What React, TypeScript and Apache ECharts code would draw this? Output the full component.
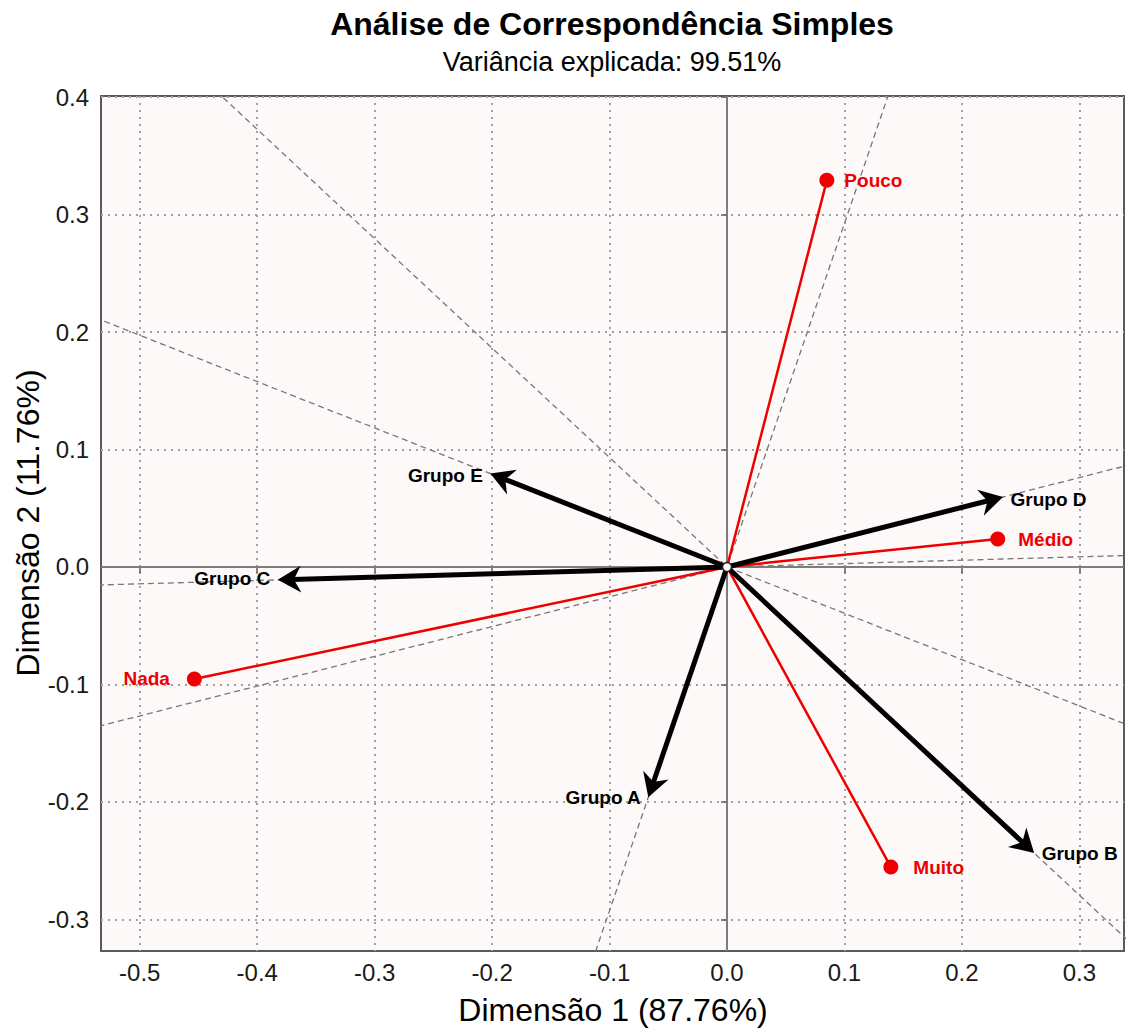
import React, { useEffect, useRef } from "react";
import * as echarts from "echarts";

// ---- Data ----
const groupNames = ["Grupo A", "Grupo B", "Grupo C", "Grupo D", "Grupo E"];
const groupDim1 = [-0.067, 0.2615, -0.3825, 0.235, -0.2015];
const groupDim2 = [-0.196, -0.2436, -0.011, 0.0596, 0.0795];

const levelNames = ["Muito", "Médio", "Nada", "Pouco"];
const levelDim1 = [0.1395, 0.2305, -0.4535, 0.085];
const levelDim2 = [-0.2555, 0.0238, -0.0954, 0.3292];

const originPoint = [0, 0];

const xTicks = [-0.5, -0.4, -0.3, -0.2, -0.1, 0, 0.1, 0.2, 0.3];
const yTicks = [-0.3, -0.2, -0.1, 0, 0.1, 0.2, 0.3, 0.4];
const xRange = [-0.533, 0.338];
const yRange = [-0.327, 0.401];

const titleText = "Análise de Correspondência Simples";
const subtitleText = "Variância explicada: 99.51%";
const xTitle = "Dimensão 1 (87.76%)";
const yTitle = "Dimensão 2 (11.76%)";

// label placement (style, not data)
const groupLabelSide = ["left", "right", "left", "right", "left"];
const groupLabelOffsetY = [0, 0, -1, 3, 2];
const levelLabelSide = ["right", "right", "left", "right"];
const levelLabelDistance = [15, 13, 17, 10];

const RED = "#EE0000";
const FONT = '"Liberation Sans", Arial, Helvetica, sans-serif';

export default function App() {
  const ref = useRef<HTMLDivElement>(null);

  useEffect(() => {
    document.body.style.margin = "0";
    if (!ref.current) return;
    const chart = echarts.init(ref.current, null, { renderer: "svg" });

    const groupPts = groupDim1.map((x, i) => [x, groupDim2[i]]);
    const levelPts = levelDim1.map((x, i) => [x, levelDim2[i]]);
    const K = 6;

    const dashedSeries = groupPts.map((p, i) => ({
      type: "line",
      name: "eixo " + groupNames[i],
      data: [
        [-K * p[0], -K * p[1]],
        [K * p[0], K * p[1]],
      ],
      showSymbol: false,
      symbol: "none",
      clip: true,
      silent: true,
      z: 2,
      lineStyle: { color: "#777777", width: 1.3, type: [6, 4] },
    }));

    const redLineSeries = levelPts.map((p, i) => ({
      type: "line",
      name: "seg " + levelNames[i],
      data: [originPoint, p],
      showSymbol: false,
      symbol: "none",
      silent: true,
      z: 3,
      lineStyle: { color: RED, width: 2.5 },
    }));

    const textStyle = (text: string, size: number, bold: boolean) => ({
      text,
      fontSize: size,
      fontWeight: bold ? "bold" : "normal",
      fontFamily: FONT,
      fill: "#000",
      align: "center",
      verticalAlign: "middle",
      textAlign: "center",
      textVerticalAlign: "middle",
    });

    const option: any = {
      animation: false,
      backgroundColor: "#ffffff",
      grid: {
        left: 101,
        right: 2,
        top: 96,
        bottom: 78,
        containLabel: false,
        outerBoundsMode: "none",
        show: true,
        backgroundColor: "#FCF9F8",
        borderColor: "#5a5a5a",
        borderWidth: 2,
      },
      xAxis: {
        type: "value",
        min: xRange[0],
        max: xRange[1],
        axisLine: { show: false },
        axisTick: {
          show: true,
          length: 6,
          customValues: xTicks,
          lineStyle: { color: "#5a5a5a", width: 1.5 },
        },
        axisLabel: {
          customValues: xTicks,
          formatter: (v: number) => v.toFixed(1),
          fontSize: 24,
          color: "#1a1a1a",
          fontFamily: FONT,
          margin: 9,
        },
        splitLine: {
          show: true,
          lineStyle: { color: "#a0a0a0", width: 2, type: [2, 5] },
        },
      },
      yAxis: {
        type: "value",
        min: yRange[0],
        max: yRange[1],
        axisLine: { show: false },
        axisTick: {
          show: true,
          length: 6,
          customValues: yTicks,
          lineStyle: { color: "#5a5a5a", width: 1.5 },
        },
        axisLabel: {
          customValues: yTicks,
          formatter: (v: number) => v.toFixed(1),
          fontSize: 24,
          color: "#1a1a1a",
          fontFamily: FONT,
          margin: 12,
        },
        splitLine: {
          show: true,
          lineStyle: { color: "#a0a0a0", width: 2, type: [2, 5] },
        },
      },
      graphic: [
        { type: "text", x: 612, y: 24, silent: true, style: textStyle(titleText, 32, true) },
        { type: "text", x: 612, y: 62, silent: true, style: textStyle(subtitleText, 27, false) },
        { type: "text", x: 613, y: 1010, silent: true, style: textStyle(xTitle, 32, false) },
        {
          type: "text",
          x: 28,
          y: 523,
          rotation: Math.PI / 2,
          silent: true,
          style: textStyle(yTitle, 32, false),
        },
      ],
      series: [
        {
          type: "line",
          name: "zero-x",
          data: [
            [0, yRange[0]],
            [0, yRange[1]],
          ],
          showSymbol: false,
          symbol: "none",
          silent: true,
          z: 1,
          lineStyle: { color: "#7c7c7c", width: 2 },
        },
        {
          type: "line",
          name: "zero-y",
          data: [
            [xRange[0], 0],
            [xRange[1], 0],
          ],
          showSymbol: false,
          symbol: "none",
          silent: true,
          z: 1,
          lineStyle: { color: "#7c7c7c", width: 2 },
        },
        ...dashedSeries,
        ...redLineSeries,
        {
          type: "custom",
          name: "setas",
          z: 4,
          silent: true,
          data: groupPts,
          renderItem: (params: any, api: any) => {
            const p0 = api.coord(originPoint);
            const p1 = api.coord([api.value(0), api.value(1)]);
            const ang = Math.atan2(p1[1] - p0[1], p1[0] - p0[0]);
            const lw = 5;
            const back = 3;
            const tip = [p1[0] - back * Math.cos(ang), p1[1] - back * Math.sin(ang)];
            const L = 19;
            const a = Math.PI / 6;
            const w1 = [tip[0] - L * Math.cos(ang - a), tip[1] - L * Math.sin(ang - a)];
            const w2 = [tip[0] - L * Math.cos(ang + a), tip[1] - L * Math.sin(ang + a)];
            const notch = [tip[0] - 0.6 * L * Math.cos(ang), tip[1] - 0.6 * L * Math.sin(ang)];
            return {
              type: "group",
              children: [
                {
                  type: "line",
                  shape: { x1: p0[0], y1: p0[1], x2: notch[0], y2: notch[1] },
                  style: { stroke: "#000", lineWidth: lw, lineCap: "butt" },
                },
                {
                  type: "polygon",
                  shape: { points: [w1, tip, w2, notch] },
                  style: { stroke: "#000", fill: "#000", lineWidth: 3, lineJoin: "miter" },
                },
              ],
            };
          },
        },
        {
          type: "scatter",
          name: "níveis",
          z: 5,
          symbolSize: 15,
          itemStyle: { color: RED, opacity: 1 },
          data: levelPts.map((p, i) => ({
            value: p,
            name: levelNames[i],
            label: {
              show: true,
              position: levelLabelSide[i],
              distance: levelLabelDistance[i],
              formatter: "{b}",
              color: RED,
              opacity: 1,
              fontSize: 19,
              fontWeight: "bold",
              fontFamily: FONT,
            },
          })),
        },
        {
          type: "scatter",
          name: "grupos",
          z: 6,
          symbolSize: 1,
          itemStyle: { color: "rgba(0,0,0,0)", opacity: 1 },
          data: groupPts.map((p, i) => ({
            value: p,
            name: groupNames[i],
            label: {
              show: true,
              position: groupLabelSide[i],
              distance: 7,
              offset: [0, groupLabelOffsetY[i]],
              formatter: "{b}",
              color: "#000",
              opacity: 1,
              fontSize: 19,
              fontWeight: "bold",
              fontFamily: FONT,
            },
          })),
        },
        {
          type: "scatter",
          name: "origem",
          z: 7,
          symbolSize: 9,
          silent: true,
          itemStyle: { color: "#ffffff", borderColor: "#222", borderWidth: 1.5, opacity: 1 },
          data: [originPoint],
        },
      ],
    };

    chart.setOption(option);
    return () => {
      chart.dispose();
    };
  }, []);

  return <div ref={ref} style={{ width: 1126, height: 1029 }} />;
}
